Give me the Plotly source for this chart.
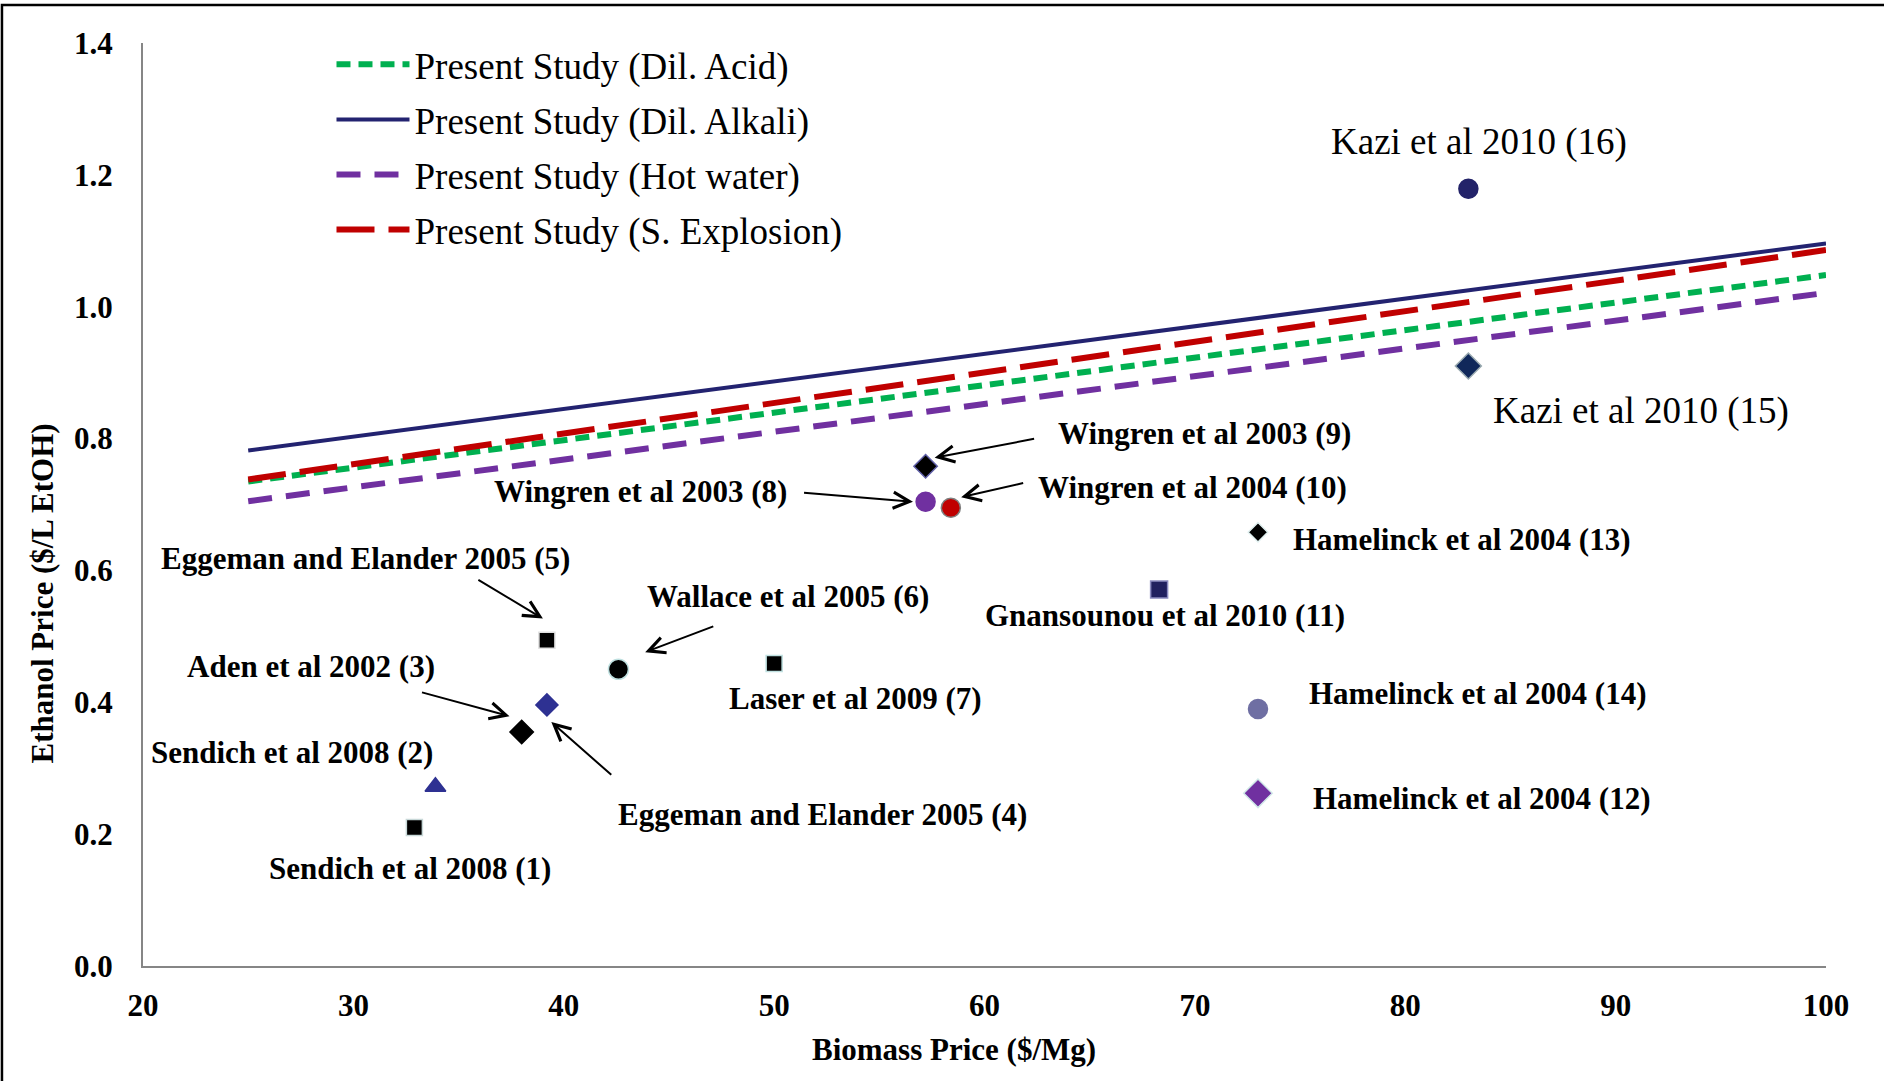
import plotly.graph_objects as go

# ---------------- data ----------------
line_x = [25, 100]
acid_y = [0.735, 1.048]      # Present Study (Dil. Acid)
alkali_y = [0.782, 1.096]    # Present Study (Dil. Alkali)
hot_y = [0.705, 1.021]       # Present Study (Hot water)
steam_y = [0.738, 1.086]     # Present Study (S. Explosion)

study_labels = [
    "Sendich et al 2008 (1)", "Sendich et al 2008 (2)", "Aden et al 2002 (3)",
    "Eggeman and Elander 2005 (4)", "Eggeman and Elander 2005 (5)",
    "Wallace et al 2005 (6)", "Laser et al 2009 (7)", "Wingren et al 2003 (8)",
    "Wingren et al 2003 (9)", "Wingren et al 2004 (10)", "Gnansounou et al 2010 (11)",
    "Hamelinck et al 2004 (12)", "Hamelinck et al 2004 (13)", "Hamelinck et al 2004 (14)",
    "Kazi et al 2010 (15)", "Kazi et al 2010 (16)",
]
biomass_price = [32.9, 33.9, 38.0, 39.2, 39.2, 42.6, 50.0, 57.2,
                 57.2, 58.4, 68.3, 73.0, 73.0, 73.0, 83.0, 83.0]
ethanol_price = [0.21, 0.272, 0.355, 0.396, 0.494, 0.450, 0.459, 0.704,
                 0.758, 0.695, 0.571, 0.262, 0.658, 0.390, 0.910, 1.179]

x_ticks = [20, 30, 40, 50, 60, 70, 80, 90, 100]
y_ticks = [0.0, 0.2, 0.4, 0.6, 0.8, 1.0, 1.2, 1.4]

x_title = "Biomass Price ($/Mg)"
y_title = "Ethanol Price ($/L EtOH)"

# ---------------- styles ----------------
FONT = "Times New Roman, Liberation Serif, serif"
marker_symbols = ["square", "triangle-up", "diamond", "diamond", "square", "circle",
                  "square", "circle", "diamond", "circle", "square", "diamond",
                  "diamond", "circle", "diamond", "circle"]
marker_colors = ["#000000", "#2E3192", "#000000", "#2E3192", "#000000", "#000000",
                 "#000000", "#7030A0", "#000000", "#C00000", "#20205F", "#7030A0",
                 "#000000", "#6F6FA3", "#10285A", "#232369"]
marker_edges = ["#C8D8D8", "#2E3192", "#000000", "#2E3192", "#E0E0E0", "#BFE0E0",
                "#BFE0E0", "#7030A0", "#6060A8", "#7F7F7F", "#8A8AC0", "#D0E8E8",
                "#E0F0F0", "#6F6FA3", "#9AAAB0", "#232369"]
marker_sizes = [16, 18, 18, 17, 16, 20, 16, 19, 18, 19, 17, 22, 15, 19, 20, 19]

# label positions (data coords) and whether bold
label_pos = [(32.68, 0.148), (27.08, 0.3245), (28.0, 0.454), (52.32, 0.2297),
             (30.56, 0.618), (50.66, 0.561), (53.86, 0.4065), (43.64, 0.720),
             (70.48, 0.8075), (69.91, 0.7255), (68.59, 0.532), (83.67, 0.2534),
             (82.70, 0.647), (83.44, 0.414), (91.2, 0.842), (83.5, 1.2505)]
label_bold = [True] * 14 + [False, False]

# arrows: (tail_x, tail_y, head_x, head_y)
arrows = [(35.87, 0.587, 39.01, 0.527),   # (5)
          (47.18, 0.516, 43.87, 0.476),   # (6)
          (33.19, 0.4156, 37.42, 0.379),  # (3)
          (42.33, 0.288, 39.41, 0.370),   # (4)
          (51.35, 0.718, 56.60, 0.704),   # (8)
          (62.43, 0.800, 57.63, 0.771),   # (9)
          (61.91, 0.733, 58.89, 0.711)]   # (10)

fig = go.Figure()

line_specs = [
    ("Present Study (Dil. Acid)", acid_y, "#00B050", "14px,8px", 6),
    ("Present Study (Dil. Alkali)", alkali_y, "#232370", "solid", 4),
    ("Present Study (Hot water)", hot_y, "#7030A0", "24px,14px", 6),
    ("Present Study (S. Explosion)", steam_y, "#C00000", "38px,14px", 6),
]
for i, (name, ys, col, dash, w) in enumerate(line_specs):
    fig.add_trace(go.Scatter(x=line_x, y=ys, mode="lines", name=name,
                             legendgroup="g%d" % i,
                             line=dict(color=col, dash=dash, width=w)))

fig.add_trace(go.Scatter(
    x=biomass_price, y=ethanol_price, mode="markers", showlegend=False,
    marker=dict(symbol=marker_symbols, color=marker_colors, size=marker_sizes,
                opacity=1, line=dict(color=marker_edges, width=1.5)),
    hovertext=study_labels,
))

annotations = []
for lab, (lx, ly), b in zip(study_labels, label_pos, label_bold):
    annotations.append(dict(
        x=lx, y=ly, xref="x", yref="y", text=lab, showarrow=False,
        font=dict(family=FONT, size=31 if b else 37, color="#000000",
                  weight="bold" if b else "normal"),
        xanchor="center", yanchor="middle"))
for tx, ty, hx, hy in arrows:
    annotations.append(dict(
        x=hx, y=hy, ax=tx, ay=ty, xref="x", yref="y", axref="x", ayref="y",
        text="", showarrow=True, arrowhead=5, arrowsize=1.6, arrowwidth=2,
        arrowcolor="#000000", standoff=0, startstandoff=0))
# axis titles (placed as in the reference, off-centre)
annotations.append(dict(x=0.482, y=-0.091, xref="paper", yref="paper", text=x_title,
                        showarrow=False, xanchor="center", yanchor="middle",
                        font=dict(family=FONT, size=31, weight="bold", color="#000000")))
annotations.append(dict(x=-0.060, y=0.4036, xref="paper", yref="paper", text=y_title,
                        showarrow=False, xanchor="center", yanchor="middle", textangle=-90,
                        font=dict(family=FONT, size=31, weight="bold", color="#000000")))

fig.update_layout(
    width=1884, height=1081,
    margin=dict(l=143, r=58, t=43, b=115),
    paper_bgcolor="white", plot_bgcolor="white",
    font=dict(family=FONT, color="#000000"),
    annotations=annotations,
    legend=dict(x=0.112, y=1.01, xanchor="left", yanchor="top",
                bgcolor="rgba(0,0,0,0)", traceorder="grouped",
                tracegroupgap=4, itemwidth=73,
                font=dict(family=FONT, size=37, color="#000000")),
    shapes=[dict(type="path", xref="paper", yref="paper",
                 path="M -0.0838 -0.13 L -0.0838 1.0412 L 1.04 1.0412",
                 line=dict(color="#000000", width=2.5))],
    xaxis=dict(range=[20, 100], tickvals=x_ticks, ticktext=[str(v) for v in x_ticks],
               showgrid=False, zeroline=False, showline=True, linecolor="#868686",
               linewidth=2, ticks="", ticklabelstandoff=11,
               tickfont=dict(family=FONT, size=31, weight="bold")),
    yaxis=dict(range=[0, 1.4], tickvals=y_ticks, ticktext=["%.1f" % v for v in y_ticks],
               showgrid=False, zeroline=False, showline=True, linecolor="#868686",
               linewidth=2, ticks="", ticklabelstandoff=22,
               tickfont=dict(family=FONT, size=31, weight="bold")),
)

fig.write_html("out.html", config={"displayModeBar": False},
               post_script="document.body.style.margin='0';")
